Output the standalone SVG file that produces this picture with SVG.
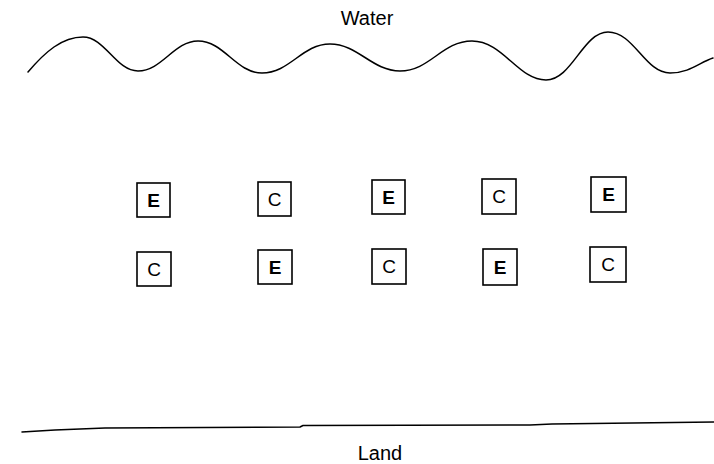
<svg xmlns="http://www.w3.org/2000/svg" width="714" height="464" viewBox="0 0 714 464">
  <style>
    .lbl { font-family: "Liberation Sans", Arial, sans-serif; font-size: 20px; fill: #000; text-anchor: middle; }
    .box rect { fill: #fff; stroke: #000; stroke-width: 1.6; }
    .box text { font-family: "Liberation Sans", Arial, sans-serif; font-size: 19px; fill: #000; text-anchor: middle; }
    .box.e text { font-weight: bold; }
    .edge { fill: none; stroke: #000; stroke-width: 1.5; stroke-linecap: round; stroke-linejoin: round; }
  </style>
  <rect width="714" height="464" fill="#fff"/>

  <!-- water surface and shoreline -->
  <g id="connectors">
    <path class="edge" d="M28,72 C45,52 62,37 83,37 C105,37 116,71 138,71 C162,71 174,41 198,41 C224,41 236,73 262,73 C290,73 302,44 330,44 C358,44 372,71 400,71 C430,71 442,41 472,41 C503,41 518,80 546,80 C572,80 583,32 608,32 C634,32 645,73 670,73 C690,73 700,62 713,58"/>
    <polyline class="edge" points="22,432 55,430 105,428 300,427 303,425.5 530,425 552,424 714,422"/>
  </g>

  <g id="water"><text class="lbl" x="367" y="25">Water</text></g>
  <g id="land"><text class="lbl" x="380" y="460">Land</text></g>

  <!-- upper row -->
  <g id="r1c1" class="box e"><rect x="137" y="183" width="33" height="34"/><text x="153.5" y="207">E</text></g>
  <g id="r1c2" class="box c"><rect x="258" y="182" width="33" height="34"/><text x="274.5" y="206">C</text></g>
  <g id="r1c3" class="box e"><rect x="372" y="180" width="33" height="34"/><text x="388.5" y="204">E</text></g>
  <g id="r1c4" class="box c"><rect x="482" y="179" width="34" height="35"/><text x="499" y="203">C</text></g>
  <g id="r1c5" class="box e"><rect x="591" y="177" width="35" height="35"/><text x="608.5" y="201">E</text></g>

  <!-- lower row -->
  <g id="r2c1" class="box c"><rect x="137" y="252" width="34" height="34"/><text x="154" y="276">C</text></g>
  <g id="r2c2" class="box e"><rect x="258" y="250" width="34" height="34"/><text x="275" y="274">E</text></g>
  <g id="r2c3" class="box c"><rect x="372" y="249" width="34" height="35"/><text x="389" y="273">C</text></g>
  <g id="r2c4" class="box e"><rect x="483" y="249" width="34" height="36"/><text x="500" y="274">E</text></g>
  <g id="r2c5" class="box c"><rect x="590" y="247" width="36" height="35"/><text x="608" y="271">C</text></g>
</svg>
